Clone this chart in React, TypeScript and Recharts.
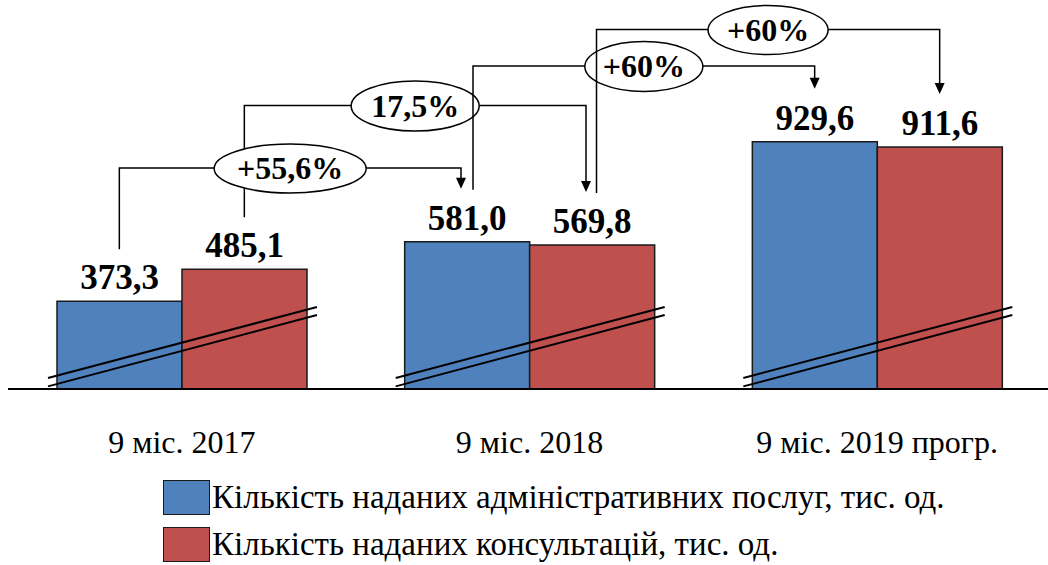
import React from 'react';
import * as R from 'recharts';

const { BarChart, Bar, XAxis, YAxis, LabelList, Legend, Rectangle } = R as any;

// ---------- data ----------
const categories = ['9 міс. 2017', '9 міс. 2018', '9 міс. 2019 прогр.'];
const services = [373.3, 581.0, 929.6];
const consultations = [485.1, 569.8, 911.6];
const seriesNames = [
  'Кількість наданих адміністративних послуг, тис. од.',
  'Кількість наданих консультацій, тис. од.',
];
// growth annotations: [fromCategory, toCategory, series(0 = services, 1 = consultations), label]
const changeFrom = [0, 0, 1, 1];
const changeTo = [1, 1, 2, 2];
const changeSeries = [0, 1, 0, 1];
const changeLabels = ['+55,6%', '17,5%', '+60%', '+60%'];

const data = categories.map((c, i) => ({ cat: c, a: services[i], b: consultations[i] }));

// ---------- style ----------
const W = 1051;
const H = 565;
const MARGIN = { top: 7, right: 0, left: 8, bottom: 116 };
const X_AXIS_H = 60;
const Y_MIN = 67;
const Y_MAX = 1400;
const BAR = 125;
const BLUE = '#4F81BD';
const RED = '#C0504D';
const SERIF = '"Liberation Serif", "Times New Roman", serif';
const INK = '#000';

// connector appearance (pixel offsets below plot top, shifts from bar centres, ellipse radii)
const CONNECTOR_STYLE = [
  { level: 161, fromDx: 0, toDx: -6, rx: 76, ry: 24.5 },
  { level: 98.5, fromDx: 0, toDx: -6, rx: 64, ry: 25 },
  { level: 59, fromDx: 6, toDx: 0, rx: 59, ry: 25 },
  { level: 22.5, fromDx: 4.5, toDx: 0, rx: 60, ry: 24.5 },
];

const fmt = (v: number) => v.toFixed(1).replace('.', ',');

const anyR = R as any;
function useArea() {
  let area: any = null;
  if (anyR.usePlotArea) {
    area = anyR.usePlotArea();
  } else if (anyR.useOffset) {
    const o = anyR.useOffset();
    if (o) {
      area = {
        x: o.left,
        y: o.top,
        width: W - o.left - o.right,
        height: H - o.top - o.bottom,
      };
    }
  }
  if (!area || !area.width) {
    area = {
      x: MARGIN.left,
      y: MARGIN.top,
      width: W - MARGIN.left - MARGIN.right,
      height: H - MARGIN.top - MARGIN.bottom - X_AXIS_H,
    };
  }
  return area;
}

function Overlay() {
  const area = useArea();
  const { x, y, width, height } = area;
  const n = categories.length;
  const bw = width / n;
  const center = (i: number) => x + bw * (i + 0.5);
  const barCx = (i: number, s: number) => center(i) + (s === 0 ? -BAR / 2 : BAR / 2);
  const yPix = (v: number) => y + height * (1 - (v - Y_MIN) / (Y_MAX - Y_MIN));
  const val = (i: number, s: number) => (s === 0 ? services[i] : consultations[i]);

  const geom = changeLabels.map((_, k) => {
    const st = CONNECTOR_STYLE[k];
    const s = changeSeries[k];
    const fx = barCx(changeFrom[k], s) + st.fromDx;
    const tx = barCx(changeTo[k], s) + st.toDx;
    const fy = yPix(val(changeFrom[k], s)) - 52;
    const tip = yPix(val(changeTo[k], s)) - 53;
    const ly = y + st.level;
    return { fx, tx, fy, tip, ly, st };
  });

  const lines = (k: number) => {
    const g = geom[k];
    return (
      <g key={'ln' + k}>
        <path
          d={`M${g.fx},${g.fy} V${g.ly} H${g.tx} V${g.tip - 10}`}
          fill="none"
          stroke={INK}
          strokeWidth={1.5}
        />
        <polygon
          points={`${g.tx - 5},${g.tip - 11} ${g.tx + 5},${g.tip - 11} ${g.tx},${g.tip}`}
          fill={INK}
        />
      </g>
    );
  };
  const ell = (k: number) => {
    const g = geom[k];
    const cx = (g.fx + g.tx) / 2;
    const cy = g.ly + 0.5;
    return (
      <g key={'el' + k}>
        <ellipse cx={cx} cy={cy} rx={g.st.rx} ry={g.st.ry} fill="#fff" stroke={INK} strokeWidth={1.5} />
        <text
          x={cx}
          y={cy}
          dy="0.34em"
          textAnchor="middle"
          fontFamily={SERIF}
          fontWeight="bold"
          fontSize={32}
          fill={INK}
        >
          {changeLabels[k]}
        </text>
      </g>
    );
  };

  return (
    <g>
      {lines(1)}
      {lines(0)}
      {ell(0)}
      {ell(1)}
      {lines(2)}
      {ell(2)}
      {lines(3)}
      {ell(3)}
    </g>
  );
}

// second bar of each pair also draws the axis-break marks across both bars
const BreakShape = (p: any) => {
  const { x, y, width, height } = p;
  const base = y + height;
  const l = x - width - 9;
  const r = x + width + 10;
  return (
    <g>
      <Rectangle {...p} />
      <g stroke={INK} strokeWidth={2}>
        <line x1={l} y1={base - 11} x2={r} y2={base - 82} />
        <line x1={l} y1={base - 2.6} x2={r} y2={base - 74} />
      </g>
    </g>
  );
};

const renderLegend = (props: any) => {
  const payload = [...(props.payload || [])].sort(
    (p: any, q: any) => seriesNames.indexOf(p.value) - seriesNames.indexOf(q.value)
  );
  return (
    <div>
      {payload.map((e: any) => (
        <div key={e.value} style={{ display: 'flex', alignItems: 'center', height: 47 }}>
          <div
            style={{
              width: 47,
              height: 35,
              background: e.color,
              border: '1.5px solid #1a1a1a',
              boxSizing: 'border-box',
            }}
          />
          <span
            style={{
              fontFamily: SERIF,
              fontSize: 33,
              lineHeight: 1,
              marginLeft: 2,
              color: INK,
              whiteSpace: 'nowrap',
            }}
          >
            {e.value}
          </span>
        </div>
      ))}
    </div>
  );
};

const labelStyle = {
  fill: INK,
  fontSize: 35,
  fontWeight: 'bold',
  fontFamily: SERIF,
};

export default function App() {
  return (
    <div
      style={{
        position: 'absolute',
        left: 0,
        top: 0,
        width: 1048,
        height: 565,
        overflow: 'hidden',
        background: '#fff',
      }}
    >
      <BarChart width={W} height={H} data={data} margin={MARGIN} barGap={0} barSize={BAR}>
        <XAxis
          dataKey="cat"
          height={X_AXIS_H}
          interval={0}
          tickLine={false}
          tickSize={0}
          tickMargin={41}
          axisLine={{ stroke: INK, strokeWidth: 2 }}
          tick={{ fill: INK, fontSize: 32, fontFamily: SERIF }}
        />
        <YAxis hide type="number" domain={[Y_MIN, Y_MAX]} allowDataOverflow />
        <Legend
          content={renderLegend}
          layout="horizontal"
          verticalAlign="middle"
          align="center"
          wrapperStyle={{ left: 163, top: 474, width: 'auto', height: 'auto' }}
        />
        <Bar dataKey="a" name={seriesNames[0]} fill={BLUE} stroke="#1a1a1a" strokeWidth={1.5} isAnimationActive={false}>
          <LabelList dataKey="a" position="top" offset={12} formatter={fmt} style={labelStyle} />
        </Bar>
        <Bar
          dataKey="b"
          name={seriesNames[1]}
          fill={RED}
          stroke="#1a1a1a"
          strokeWidth={1.5}
          shape={BreakShape}
          isAnimationActive={false}
        >
          <LabelList dataKey="b" position="top" offset={12} formatter={fmt} style={labelStyle} />
        </Bar>
        <Overlay />
      </BarChart>
    </div>
  );
}
